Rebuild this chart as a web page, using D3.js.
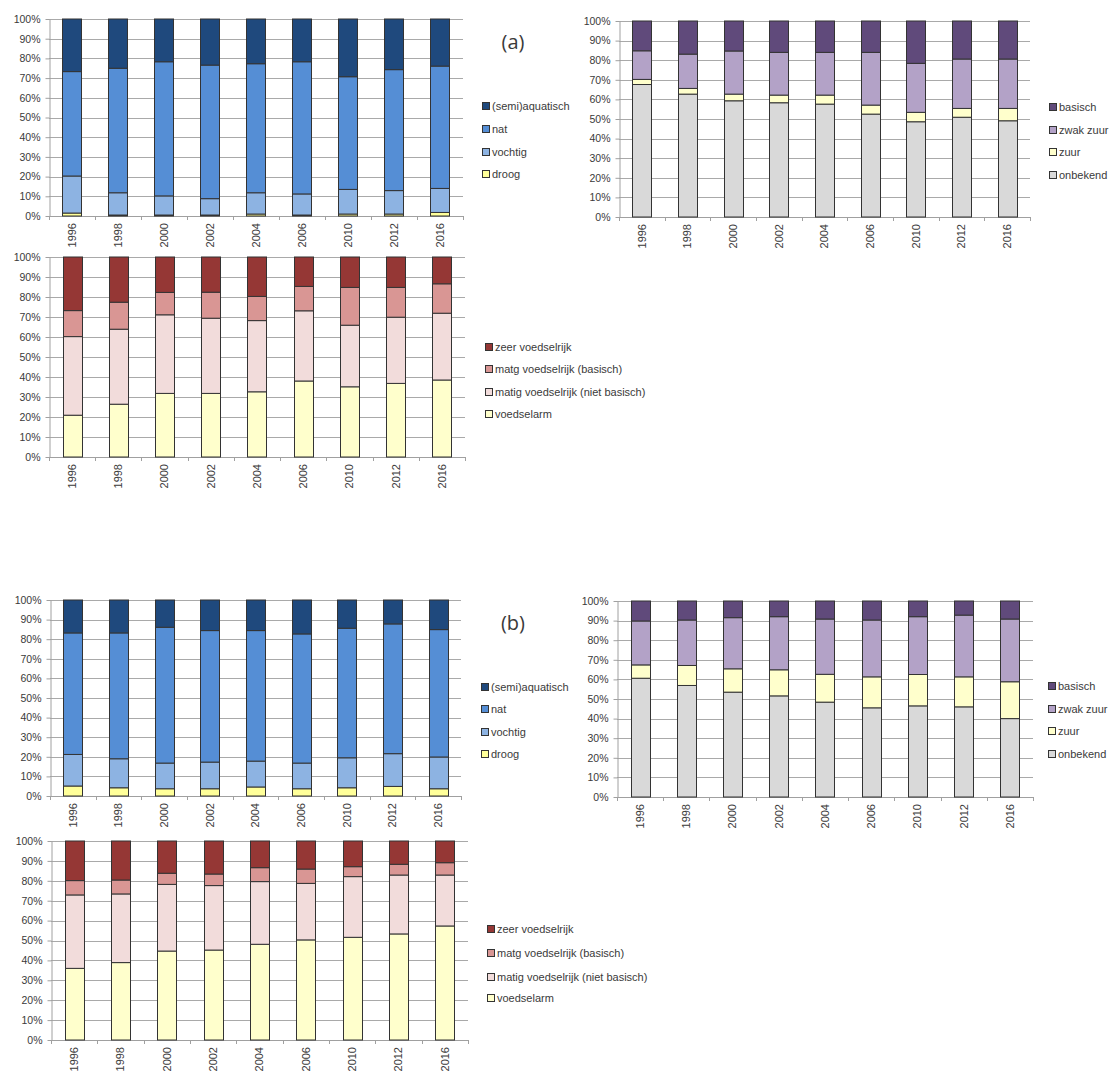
<!DOCTYPE html>
<html>
<head>
<meta charset="utf-8">
<script src="https://cdn.jsdelivr.net/npm/d3@7"></script>
<style>
  html, body { margin: 0; padding: 0; background: #fff; }
  svg text { font-family: "Liberation Sans", Arial, sans-serif; fill: #3a3a3a; }
</style>
</head>
<body>
<svg id="chart" width="1113" height="1073"></svg>
<script>
// Survey years (categories shared by every panel)
const years = ["1996", "1998", "2000", "2002", "2004", "2006", "2010", "2012", "2016"];
const yTicks = [0, 0.1, 0.2, 0.3, 0.4, 0.5, 0.6, 0.7, 0.8, 0.9, 1];

// Moisture classes, shares in % (bottom to top of each bar)
const moistureNames = ["droog", "vochtig", "nat", "(semi)aquatisch"];
const droogA   = [1.5, 0.5, 0.5, 0.5, 1.0, 0.5, 1.0, 1.0, 1.8];
const vochtigA = [18.8, 11.3, 9.7, 8.3, 10.8, 10.7, 12.5, 11.9, 12.2];
const natA     = [53.0, 63.2, 68.1, 67.8, 65.5, 67.1, 57.2, 61.4, 62.1];
const semiA    = [26.7, 25.0, 21.7, 23.4, 22.7, 21.7, 29.3, 25.7, 23.9];
const droogB   = [5.1, 4.2, 3.7, 3.7, 4.6, 3.7, 4.2, 4.9, 3.7];
const vochtigB = [16.1, 14.8, 13.1, 13.6, 13.2, 13.1, 15.3, 16.7, 16.2];
const natB     = [62.0, 64.2, 69.3, 67.1, 66.6, 65.9, 66.1, 66.2, 65.0];
const semiB    = [16.8, 16.8, 13.9, 15.6, 15.6, 17.3, 14.4, 12.2, 15.1];

// Acidity classes, shares in %
const acidityNames = ["onbekend", "zuur", "zwak zuur", "basisch"];
const onbekendA = [67.6, 62.7, 59.3, 58.3, 57.6, 52.5, 48.6, 50.9, 49.1];
const zuurA     = [2.6, 2.9, 3.4, 3.9, 4.6, 4.6, 4.8, 4.5, 6.3];
const zwakA     = [14.6, 17.5, 22.0, 21.8, 21.8, 26.9, 25.0, 25.2, 25.2];
const basischA  = [15.2, 16.9, 15.3, 16.0, 16.0, 16.0, 21.6, 19.4, 19.4];
const onbekendB = [60.6, 56.9, 53.5, 51.6, 48.4, 45.5, 46.5, 46.0, 40.0];
const zuurB     = [6.8, 10.2, 11.9, 13.3, 14.2, 15.8, 16.0, 15.3, 18.8];
const zwakB     = [22.4, 23.2, 26.1, 27.1, 28.2, 29.0, 29.5, 31.5, 32.0];
const basischB  = [10.2, 9.7, 8.5, 8.0, 9.2, 9.7, 8.0, 7.2, 9.2];

// Nutrient classes, shares in %
const nutrientNames = ["voedselarm", "matig voedselrijk (niet basisch)", "matg voedselrijk (basisch)", "zeer voedselrijk"];
const armA   = [20.9, 26.4, 31.8, 31.8, 32.6, 38.0, 35.1, 36.8, 38.5];
const matigA = [39.3, 37.5, 39.3, 37.6, 35.6, 35.1, 30.8, 33.1, 33.4];
const matgA  = [13.0, 13.5, 11.2, 13.0, 12.1, 12.2, 18.9, 14.9, 14.7];
const zeerA  = [26.8, 22.6, 17.7, 17.6, 19.7, 14.7, 15.2, 15.2, 13.4];
const armB   = [36.0, 38.9, 44.7, 45.2, 48.1, 50.3, 51.6, 53.3, 57.3];
const matigB = [36.9, 34.5, 33.5, 32.4, 31.5, 28.4, 30.5, 29.6, 25.6];
const matgB  = [7.2, 7.0, 5.6, 5.8, 7.0, 7.2, 5.0, 5.4, 6.2];
const zeerB  = [19.9, 19.6, 16.2, 16.6, 13.4, 14.1, 12.9, 11.7, 10.9];

const moistureColors = ["#ffff99", "#8db3e2", "#558ed5", "#1f497d"];
const acidityColors  = ["#d9d9d9", "#ffffcc", "#b3a2c7", "#604a7b"];
const nutrientColors = ["#ffffcc", "#f2dcdb", "#d99694", "#953735"];

const svg = d3.select("#chart");
svg.append("rect").attr("width", 1113).attr("height", 1073).attr("fill", "#fff");

function panel(p) {
  const g = svg.append("g");
  const rows = years.map((yr, i) => {
    const r = { year: yr };
    p.names.forEach((n, k) => { r[n] = p.values[k][i] / 100; });
    return r;
  });
  const stacked = d3.stack().keys(p.names)(rows);

  const x = d3.scaleBand().domain(years).range([p.x0, p.x1])
    .paddingInner(0.585).paddingOuter(0.2925);
  const y = d3.scaleLinear().domain([0, 1]).range([p.yBot, p.yTop]);
  const step = (p.x1 - p.x0) / years.length;

  // horizontal gridlines
  g.append("g").selectAll("line").data(yTicks.slice(1)).join("line")
    .attr("x1", p.x0).attr("x2", p.x1)
    .attr("y1", d => Math.round(y(d)) + 0.5).attr("y2", d => Math.round(y(d)) + 0.5)
    .attr("stroke", "#a9a9a9").attr("stroke-width", 1);

  // y axis with percentage labels
  const ya = g.append("g").attr("transform", `translate(${p.x0 + 0.5},0)`)
    .call(d3.axisLeft(y).tickValues(yTicks).tickFormat(d3.format(".0%"))
      .tickSizeInner(4).tickSizeOuter(0).tickPadding(5));
  ya.select(".domain").attr("stroke", "#a0a0a0");
  ya.selectAll(".tick line").attr("stroke", "#a0a0a0");
  ya.selectAll(".tick text").attr("font-size", 10.5).attr("fill", "#3a3a3a")
    .style("font-family", '"Liberation Sans", Arial, sans-serif');

  // x axis baseline and category boundary ticks
  g.append("line").attr("x1", p.x0).attr("x2", p.x1)
    .attr("y1", Math.round(p.yBot) + 0.5).attr("y2", Math.round(p.yBot) + 0.5)
    .attr("stroke", "#a0a0a0");
  g.append("g").selectAll("line").data(d3.range(years.length + 1)).join("line")
    .attr("x1", i => Math.round(p.x0 + i * step) + 0.5).attr("x2", i => Math.round(p.x0 + i * step) + 0.5)
    .attr("y1", p.yBot).attr("y2", p.yBot + 4)
    .attr("stroke", "#a0a0a0");

  // stacked bars
  g.append("g").selectAll("g").data(stacked).join("g")
    .attr("fill", (d, k) => p.colors[k])
    .selectAll("rect").data(d => d).join("rect")
    .attr("x", d => Math.round(x(d.data.year)) + 0.5)
    .attr("width", Math.round(x.bandwidth()))
    .attr("y", d => y(d[1]))
    .attr("height", d => y(d[0]) - y(d[1]))
    .attr("stroke", "#333").attr("stroke-width", 1);

  // rotated year labels
  g.append("g").selectAll("text").data(years).join("text")
    .attr("transform", d => `translate(${x(d) + x.bandwidth() / 2},${p.yBot + 7}) rotate(-90)`)
    .attr("text-anchor", "end").attr("dy", "0.35em")
    .attr("font-size", 11).text(d => d);

  // legend, top series first
  const lg = g.append("g");
  const order = p.names.map((n, k) => k).reverse();
  order.forEach((k, j) => {
    const ly = p.legendY[j];
    lg.append("rect").attr("x", p.legendX + 0.5).attr("y", ly - 3.5)
      .attr("width", 7).attr("height", 7)
      .attr("fill", p.colors[k]).attr("stroke", "#333");
    lg.append("text").attr("x", p.legendX + 10).attr("y", ly).attr("dy", "0.35em")
      .attr("font-size", 11).text(p.names[k]);
  });
}

panel({ names: moistureNames, values: [droogA, vochtigA, natA, semiA], colors: moistureColors,
  x0: 49, x1: 463, yTop: 19, yBot: 216, legendX: 482, legendY: [106, 129, 152, 174] });
panel({ names: acidityNames, values: [onbekendA, zuurA, zwakA, basischA], colors: acidityColors,
  x0: 619, x1: 1030, yTop: 21, yBot: 217, legendX: 1049, legendY: [107, 130, 152, 175] });
panel({ names: nutrientNames, values: [armA, matigA, matgA, zeerA], colors: nutrientColors,
  x0: 49, x1: 465, yTop: 257, yBot: 457, legendX: 485, legendY: [347, 369, 392, 414] });
panel({ names: moistureNames, values: [droogB, vochtigB, natB, semiB], colors: moistureColors,
  x0: 50, x1: 461, yTop: 600, yBot: 796, legendX: 481, legendY: [687, 709, 732, 754] });
panel({ names: acidityNames, values: [onbekendB, zuurB, zwakB, basischB], colors: acidityColors,
  x0: 617, x1: 1033, yTop: 601, yBot: 797, legendX: 1048, legendY: [686, 709, 731, 754] });
panel({ names: nutrientNames, values: [armB, matigB, matgB, zeerB], colors: nutrientColors,
  x0: 51, x1: 468, yTop: 841, yBot: 1040, legendX: 487, legendY: [929, 953, 977, 998] });

// panel set markers
svg.append("text").attr("x", 513).attr("y", 42).attr("dy", "0.35em").attr("text-anchor", "middle")
  .attr("font-size", 20).style("font-family", '"Open Sans", "Liberation Sans", sans-serif').text("(a)");
svg.append("text").attr("x", 513).attr("y", 623).attr("dy", "0.35em").attr("text-anchor", "middle")
  .attr("font-size", 20).style("font-family", '"Open Sans", "Liberation Sans", sans-serif').text("(b)");
</script>
</body>
</html>
